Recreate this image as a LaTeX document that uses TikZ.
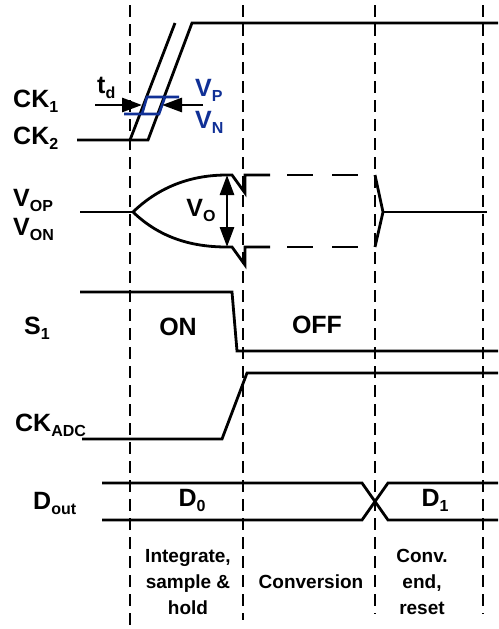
\documentclass[tikz,border=0pt]{standalone}
\usepackage{fontspec}
\setmainfont{Liberation Sans}
\usepackage{tikz}
\usetikzlibrary{arrows.meta, positioning}

\definecolor{hysblue}{RGB}{16,48,150}
\newcommand{\lowsub}[1]{\raisebox{-5pt}{\fontsize{16}{16}\selectfont #1}}

\begin{document}
\begin{tikzpicture}[x=1pt, y=-1pt,
    wave/.style={line width=2.8pt},
    guide/.style={line width=1.4pt, dash pattern=on 12pt off 7pt},
    bigarrow/.style={line width=2.8pt, -{Triangle[length=20pt,width=14pt]}},
    lbl/.style={font=\fontsize{25}{25}\selectfont\bfseries, inner sep=0pt},
    phase/.style={font=\fontsize{19}{26}\selectfont\bfseries, align=center, inner sep=0pt}]
        \useasboundingbox (0,0) rectangle (498,629);

        % Phase boundaries
        \foreach \x/\yend in {130/627, 243/620, 375/614, 483/614}
          \draw[guide] (\x,5) -- (\x,\yend);

        % Clocks
        \draw[wave] (77,140) -- (148,140) -- (192,23) -- (498,23);
        \draw[wave] (130,140) -- (175,23);
        \node[lbl, anchor=west] (ck1) at (13,101) {CK\lowsub{1}};
        \node[lbl, anchor=west] (ck2) at (13,138) {CK\lowsub{2}};

        % Comparator hysteresis
        \draw[hysblue, line width=2.6pt] (124,114) -- (159,114) -- (165,97);
        \draw[hysblue, line width=2.6pt] (142,114) -- (147,97) -- (179,97);
        \coordinate (tdstart) at (95,105);
        \coordinate (tdleft) at (142,105);
        \coordinate (tdstop) at (203,105);
        \coordinate (tdright) at (162,105);
        \draw[bigarrow] (tdstart) -- (tdleft);
        \draw[bigarrow] (tdstop) -- (tdright);
        \node[lbl, anchor=west] (td) at (97,88) {t\lowsub{d}};
        \node[lbl, anchor=west, text=hysblue] (vp) at (195,90) {V\lowsub{P}};
        \node[lbl, anchor=west, text=hysblue] (vn) at (195,122) {V\lowsub{N}};

        % Outputs
        \draw[wave] (80,212) -- (133,212);
        \draw[wave] (133,212) .. controls (160,186) and (192,175) .. (227,175)
          -- (232,175) -- (245,193) -- (245,175) -- (270,175);
        \draw[wave] (133,212) .. controls (160,238) and (192,247) .. (227,247)
          -- (232,247) -- (245,265) -- (245,247) -- (270,247);
        \draw[wave, dash pattern=on 26pt off 19pt] (287,175) -- (358,175);
        \draw[wave, dash pattern=on 26pt off 19pt] (287,247) -- (358,247);
        \draw[wave] (375,175) -- (383,212) -- (375,247);
        \draw[wave] (383,212) -- (487,212);
        \node[lbl, anchor=west] (vop) at (13,200) {V\lowsub{OP}};
        \node[lbl, anchor=west] (von) at (13,229) {V\lowsub{ON}};
        \coordinate (votop) at (227,175);
        \coordinate (vobot) at (227,247);
        \draw[line width=2.8pt, {Triangle[length=20pt,width=14pt]}-{Triangle[length=20pt,width=14pt]}] (votop) -- (vobot);
        \node[lbl] (vo) at (201,210) {V\lowsub{O}};

        % Switch
        \draw[wave] (80,292) -- (232,292) -- (237,351) -- (498,351);
        \node[lbl, anchor=west] (s1) at (24,328) {S\lowsub{1}};
        \node[lbl] (on) at (178,327) {ON};
        \node[lbl] (off) at (317,325) {OFF};

        % ADC clock
        \draw[wave] (82,439) -- (222,439) -- (247,373) -- (498,373);
        \node[lbl, anchor=west] (ckadc) at (15,425) {CK\lowsub{ADC}};

        % Data out
        \draw[wave] (102,483) -- (362,483) -- (388,520) -- (498,520);
        \draw[wave] (102,520) -- (362,520) -- (388,483) -- (498,483);
        \node[lbl, anchor=west] (dout) at (33,503) {D\lowsub{out}};
        \node[lbl] (d0) at (192,500) {D\lowsub{0}};
        \node[lbl] (d1) at (435,500) {D\lowsub{1}};

        % Phases
        \node[phase] (integ) at (188,582) {Integrate,\\sample \&\\hold};
        \node[phase] (conv) at (311,582) {Conversion};
        \node[phase] (reset) at (422,582) {Conv.\\end,\\reset};
\end{tikzpicture}
\end{document}
